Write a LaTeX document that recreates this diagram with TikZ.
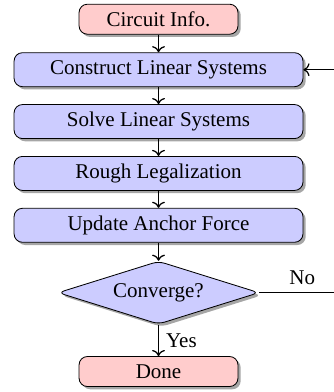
\documentclass[tikz,border=0pt]{standalone}
\usepackage{fontspec}
\setmainfont{Liberation Serif}
\usetikzlibrary{shapes.geometric,arrows.meta,positioning,shadows}
\tikzset{
    terminal/.style={rectangle, draw, rounded corners=4pt, minimum width=75.7pt, minimum height=14.3pt, inner sep=1pt, align=center, fill=red!20, softshadow},
    process/.style={rectangle, draw, rounded corners=4pt, minimum width=137.6pt, minimum height=16.2pt, inner sep=1pt, align=center, fill=blue!20, softshadow},
    decision/.style={diamond, draw, aspect=3, minimum width=95.7pt, minimum height=30pt, inner sep=1pt, rounded corners=3pt, align=center, fill=blue!20, softshadow},
    softshadow/.style={drop shadow={shadow xshift=1.3pt, shadow yshift=-1.3pt, fill=black, opacity=.35}},
    flow/.style={->, semithick},
}
\begin{document}
\begin{tikzpicture}[node distance=8.1pt]
    \useasboundingbox (-75.5pt,-153.5pt) rectangle (83.1pt,33.2pt);
    \node[process] (cls) at (0,0) {Construct Linear Systems};
    \node[terminal, above=8.4pt of cls] (info) {Circuit Info.};
    \node[process, below=of cls] (sls) {Solve Linear Systems};
    \node[process, below=of sls] (rl) {Rough Legalization};
    \node[process, below=of rl] (uaf) {Update Anchor Force};
    \node[decision, below=8.6pt of uaf] (conv) {Converge?};
    \node[terminal, below=15pt of conv] (done) {Done};
    \coordinate (loop) at (88.8pt,0);

    \draw[flow] (info) -- (cls);
    \draw[flow] (cls) -- (sls);
    \draw[flow] (sls) -- (rl);
    \draw[flow] (rl) -- (uaf);
    \draw[flow] (uaf) -- (conv);
    \draw[flow] (conv) -- node[right] {Yes} (done);
    \draw[flow] (conv.east) -- node[above] {No} (conv.east -| loop) |- (cls.east);
\end{tikzpicture}
\end{document}
